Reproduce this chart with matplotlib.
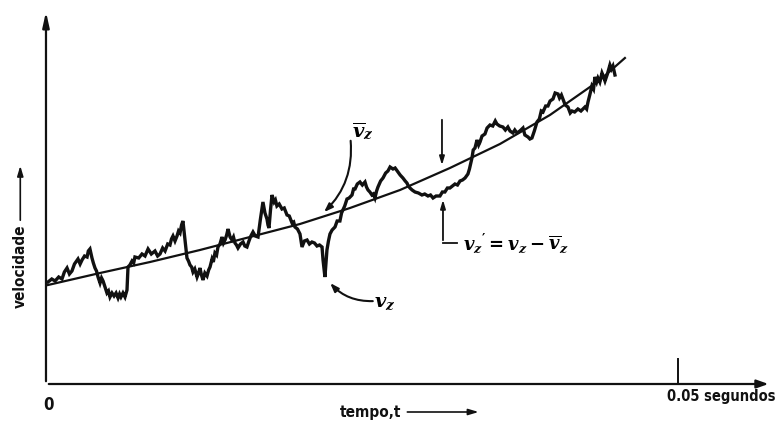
import matplotlib
matplotlib.use('Agg')
import matplotlib.pyplot as plt

# tempo em ms, velocidade em unidades arbitrárias
t_inst = [0.00, 0.30, 0.56, 0.85, 1.11, 1.30, 1.51, 1.70, 1.90, 2.10,
          2.38, 2.55, 2.70, 2.90, 3.10, 3.20, 3.33, 3.49, 3.60, 3.73,
          3.85, 3.97, 4.13, 4.25, 4.37, 4.50, 4.68, 4.80, 4.92, 5.08,
          5.24, 5.40, 5.56, 5.68, 5.79, 5.95, 6.11, 6.27, 6.35, 6.50,
          6.67, 6.80, 6.90, 7.20, 7.46, 7.70, 7.94, 8.20, 8.49, 8.70,
          8.89, 9.10, 9.29, 9.50, 9.68, 9.80, 9.92, 10.08, 10.24, 10.36,
          10.48, 10.60, 10.71, 10.87, 11.03, 11.15, 11.27, 11.40, 11.51, 11.65,
          11.83, 11.95, 12.06, 12.18, 12.30, 12.45, 12.62, 12.75, 12.86, 13.02,
          13.12, 13.25, 13.38, 13.49, 13.65, 13.81, 13.93, 14.05, 14.18, 14.29,
          14.45, 14.60, 14.72, 14.84, 14.96, 15.08, 15.28, 15.48, 15.62, 15.79,
          15.95, 16.10, 16.27, 16.45, 16.67, 16.85, 17.06, 17.22, 17.38, 17.46,
          17.54, 17.66, 17.78, 17.95, 18.05, 18.17, 18.35, 18.57, 18.75, 18.97,
          19.15, 19.37, 19.50, 19.60, 19.80, 20.00, 20.16, 20.35, 20.56, 20.75,
          20.95, 21.15, 21.35, 21.55, 21.75, 21.83, 21.98, 22.14, 22.26, 22.38,
          22.55, 22.78, 22.95, 23.17, 23.30, 23.41, 23.55, 23.73, 23.90, 24.13,
          24.25, 24.37, 24.55, 24.76, 24.95, 25.16, 25.28, 25.40, 25.55, 25.71,
          25.82, 25.95, 26.08, 26.19, 26.40, 26.59, 26.80, 26.98, 27.15, 27.38,
          27.55, 27.78, 27.95, 28.17, 28.35, 28.49, 28.60, 28.73, 28.90, 29.13,
          29.40, 29.68, 29.90, 30.16, 30.36, 30.56, 30.80, 31.11, 31.30, 31.50,
          31.70, 31.90, 32.10, 32.30, 32.50, 32.70, 32.90, 33.10, 33.33, 33.45,
          33.65, 33.75, 33.89, 34.05, 34.18, 34.29, 34.45, 34.68, 34.85, 35.08,
          35.30, 35.50, 35.63, 35.85, 36.11, 36.30, 36.50, 36.67, 36.90, 37.05,
          37.22, 37.45, 37.70, 37.85, 38.10, 38.25, 38.41, 38.60, 38.81, 39.00,
          39.15, 39.29, 39.50, 39.68, 39.85, 40.08, 40.25, 40.48, 40.60, 40.75,
          40.87, 41.05, 41.27, 41.45, 41.59, 41.80, 42.06, 42.30, 42.62, 42.75,
          42.86, 43.00, 43.17, 43.30, 43.41, 43.55, 43.65, 43.80, 43.97, 44.10,
          44.21, 44.40, 44.60, 44.72, 44.84, 45.00]
v_inst = [10.3, 10.6, 10.4, 10.8, 10.6, 11.3, 11.7, 11.1, 11.4, 12.1,
          12.6, 12.1, 12.5, 12.9, 12.8, 13.4, 13.6, 12.7, 12.2, 11.7,
          11.4, 10.8, 10.2, 10.7, 10.4, 9.9, 9.2, 9.4, 8.8, 9.2,
          8.9, 9.2, 8.7, 9.1, 8.8, 9.2, 8.8, 9.5, 11.8, 12.0,
          12.4, 12.2, 12.8, 12.7, 13.1, 12.9, 13.6, 13.1, 13.4, 12.9,
          13.1, 13.7, 13.4, 14.1, 14.0, 14.6, 14.9, 14.4, 14.9, 15.4,
          15.2, 16.0, 16.4, 14.5, 12.7, 12.4, 12.0, 11.8, 11.3, 11.6,
          10.8, 11.2, 11.7, 11.0, 10.5, 11.2, 10.9, 11.5, 11.8, 12.6,
          12.3, 13.2, 13.0, 13.8, 14.1, 14.8, 14.2, 14.5, 15.0, 15.6,
          14.8, 14.5, 14.8, 14.2, 14.0, 13.7, 14.1, 14.3, 13.9, 13.8,
          14.4, 14.9, 15.3, 14.9, 14.8, 16.5, 18.3, 17.2, 16.6, 16.0,
          15.7, 17.5, 19.0, 18.3, 18.5, 17.9, 18.1, 17.6, 17.7, 17.0,
          16.9, 16.2, 16.3, 15.8, 15.6, 15.1, 13.8, 14.4, 14.5, 14.1,
          14.3, 14.2, 13.9, 14.0, 13.8, 12.5, 10.8, 13.5, 14.4, 15.1,
          15.5, 15.8, 16.4, 16.4, 17.2, 17.5, 17.9, 18.6, 18.7, 19.0,
          19.6, 19.6, 20.1, 20.3, 20.0, 20.3, 19.8, 19.5, 19.3, 19.0,
          19.1, 18.7, 19.4, 19.8, 20.4, 20.7, 21.2, 21.4, 21.8, 21.6,
          21.7, 21.3, 21.0, 20.7, 20.4, 20.2, 19.9, 19.7, 19.5, 19.3,
          19.2, 19.0, 19.1, 18.9, 19.0, 18.7, 18.9, 18.9, 19.3, 19.3,
          19.7, 19.7, 19.9, 20.1, 20.0, 20.4, 20.5, 20.7, 21.1, 21.6,
          22.7, 23.5, 23.7, 24.5, 24.0, 24.3, 24.9, 25.1, 25.7, 26.0,
          25.9, 26.4, 26.1, 25.9, 25.8, 25.5, 25.8, 25.4, 25.2, 25.5,
          25.2, 25.4, 25.7, 25.0, 24.8, 24.6, 24.7, 25.4, 26.3, 26.6,
          27.4, 27.3, 27.9, 27.9, 28.4, 28.6, 29.2, 29.1, 28.7, 29.0,
          28.6, 28.0, 27.8, 27.2, 27.4, 27.3, 27.6, 27.4, 27.8, 27.6,
          28.3, 29.0, 29.9, 29.6, 30.8, 30.3, 30.7, 30.3, 31.2, 30.8,
          30.4, 31.1, 32.0, 31.6, 31.9, 31.0]

t_media = [0.0, 4.13, 8.10, 12.06, 16.03, 20.00, 23.97, 27.94, 31.90, 35.87, 39.84, 43.81, 45.79]
v_media = [10.0, 11.2, 12.3, 13.5, 14.8, 16.1, 17.7, 19.5, 21.7, 24.1, 27.0, 30.5, 32.7]

t_marca = 50.0
marca_label = '0.05 segundos'

plt.rcParams['mathtext.fontset'] = 'custom'
plt.rcParams['mathtext.it'] = 'DejaVu Serif:italic:bold'
plt.rcParams['mathtext.rm'] = 'DejaVu Serif:bold'
plt.rcParams['mathtext.bf'] = 'DejaVu Serif:bold'

ink = '#111111'
lab = dict(family='DejaVu Sans', fontstretch='condensed', fontweight='bold', color=ink)

fig = plt.figure(figsize=(7.79, 4.30), dpi=100)
ax = fig.add_axes([0, 0, 1, 1])
ax.set_xlim(-3.81, 58.02)
ax.set_ylim(-4.5, 38.5)
ax.axis('off')

# eixos com setas
ax.annotate('', xy=(-0.16, 37.6), xytext=(-0.16, 0.1),
            arrowprops=dict(arrowstyle='-|>,head_length=0.9,head_width=0.2', color=ink, lw=1.6))
ax.annotate('', xy=(57.4, 0.1), xytext=(-0.16, 0.1),
            arrowprops=dict(arrowstyle='-|>,head_length=0.7,head_width=0.25', color=ink, lw=1.6))
ax.plot([t_marca, t_marca], [0.1, 2.6], color=ink, lw=1.4)

# curvas
ax.plot(t_media, v_media, color=ink, lw=1.6, solid_joinstyle='round')
ax.plot(t_inst, v_inst, color=ink, lw=2.4, solid_joinstyle='miter')

# rótulos dos eixos
ax.text(0.0, -2.0, '0', ha='center', va='center', fontsize=12, **lab)
ax.text(57.75, -1.2, marca_label, ha='right', va='center', fontsize=10.5, **lab)
ax.text(23.2, -2.7, 'tempo,t', ha='left', va='center', fontsize=11, **lab)
ax.annotate('', xy=(34.4, -2.7), xytext=(28.3, -2.7),
            arrowprops=dict(arrowstyle='-|>,head_length=0.6,head_width=0.18', color=ink, lw=1.2))
ax.text(-2.2, 11.9, 'velocidade', ha='center', va='center', rotation=90, fontsize=11, **lab)
ax.annotate('', xy=(-2.2, 22.2), xytext=(-2.2, 16.2),
            arrowprops=dict(arrowstyle='-|>,head_length=0.6,head_width=0.18', color=ink, lw=1.2))

# anotações
ax.text(25.0, 25.4, r'$\overline{v}_z$', ha='center', va='center', fontsize=14)
ax.annotate('', xy=(21.75, 17.1), xytext=(24.0, 24.7),
            arrowprops=dict(arrowstyle='-|>,head_length=0.5,head_width=0.18', color=ink,
                            lw=1.5, connectionstyle='arc3,rad=-0.25'))
ax.text(26.75, 8.3, r'$v_z$', ha='center', va='center', fontsize=14)
ax.annotate('', xy=(22.25, 10.4), xytext=(26.0, 8.4),
            arrowprops=dict(arrowstyle='-|>,head_length=0.5,head_width=0.18', color=ink,
                            lw=1.5, connectionstyle='arc3,rad=-0.25'))

ax.annotate('', xy=(31.27, 21.7), xytext=(31.27, 26.8),
            arrowprops=dict(arrowstyle='-|>,head_length=0.5,head_width=0.15', color=ink, lw=1.3))
ax.annotate('', xy=(31.35, 18.8), xytext=(31.35, 14.2),
            arrowprops=dict(arrowstyle='-|>,head_length=0.5,head_width=0.15', color=ink, lw=1.3))
ax.plot([31.35, 32.46], [14.2, 14.2], color=ink, lw=1.3)
ax.text(32.9, 14.2, r"$v_z{}^{\prime} = v_z - \overline{v}_z$", ha='left', va='center', fontsize=13)

fig.savefig('out.png', dpi=100)
